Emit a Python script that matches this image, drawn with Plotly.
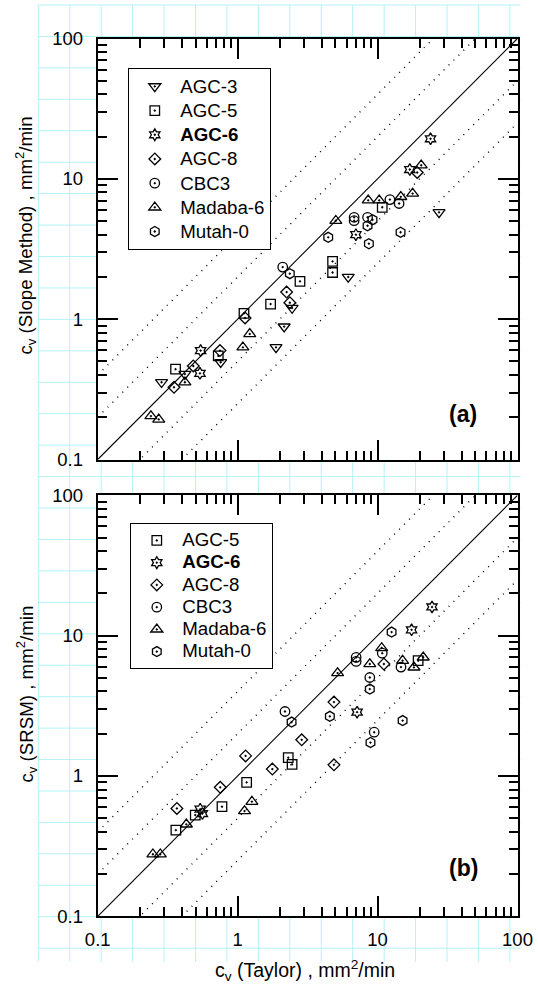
import plotly.graph_objects as go

W, H = 538, 986
FONT = "Liberation Sans, Arial, sans-serif"

# ---------------- Panel (a): cv (Taylor) vs cv (Slope Method) ----------------
agc3_a_x = [0.286, 0.42, 0.757, 1.88, 2.15, 2.45, 6.17, 27.5]
agc3_a_y = [0.355, 0.406, 0.493, 0.63, 0.885, 1.20, 2.0, 5.77]
agc5_a_x = [0.36, 0.727, 1.11, 1.72, 2.79, 4.77, 4.77, 10.8]
agc5_a_y = [0.44, 0.547, 1.10, 1.28, 1.86, 2.58, 2.15, 6.27]
agc6_a_x = [0.538, 0.544, 7.0, 17.0, 23.9]
agc6_a_y = [0.411, 0.597, 4.0, 11.65, 19.3]
agc8_a_x = [0.351, 0.482, 0.748, 1.13, 2.24, 2.36, 19.2]
agc8_a_y = [0.327, 0.464, 0.597, 1.02, 1.56, 1.31, 11.1]
cbc3_a_x = [2.10, 6.8, 6.8, 8.48, 12.25, 14.25]
cbc3_a_y = [2.35, 5.32, 5.03, 5.32, 7.11, 6.67]
mad6_a_x = [0.24, 0.273, 0.42, 1.09, 1.22, 5.03, 8.57, 10.27, 14.66, 17.8, 20.5]
mad6_a_y = [0.204, 0.193, 0.355, 0.63, 0.785, 5.03, 7.03, 7.03, 7.44, 7.85, 12.5]
mut0_a_x = [2.36, 4.44, 8.48, 8.67, 9.2, 14.6]
mut0_a_y = [2.11, 3.83, 4.63, 3.45, 5.11, 4.16]

# ---------------- Panel (b): cv (Taylor) vs cv (SRSM) ----------------
agc5_b_x = [0.362, 0.498, 0.773, 1.16, 2.30, 2.45, 19.5]
agc5_b_y = [0.411, 0.526, 0.604, 0.90, 1.35, 1.21, 6.63]
agc6_b_x = [0.54, 0.56, 7.14, 17.5, 24.5]
agc6_b_y = [0.58, 0.54, 2.85, 11.0, 16.0]
agc8_b_x = [0.368, 0.751, 1.14, 1.77, 2.87, 4.88, 4.88, 11.1]
agc8_b_y = [0.587, 0.83, 1.39, 1.12, 1.81, 3.36, 1.20, 6.28]
cbc3_b_x = [2.18, 7.03, 7.03, 8.8, 9.46, 10.8, 14.7]
cbc3_b_y = [2.88, 7.0, 6.55, 5.03, 2.05, 7.5, 5.97]
mad6_b_x = [0.248, 0.28, 0.43, 1.12, 1.265, 5.18, 8.8, 10.7, 15.1, 18.2, 21.2]
mad6_b_y = [0.277, 0.277, 0.452, 0.562, 0.656, 5.41, 6.28, 8.17, 6.63, 5.94, 7.0]
mut0_b_x = [2.43, 4.56, 8.8, 8.9, 12.6, 15.1]
mut0_b_y = [2.42, 2.66, 4.16, 1.73, 10.6, 2.48]

# reference lines y = k * x
line_x = [0.1, 100]
ratio_factors = [0.25, 0.5, 1, 2, 4]

major_ticks = [0.1, 1, 10, 100]
major_labels = ["0.1", "1", "10", "100"]
minor_ticks = [m * d for d in (0.1, 1, 10) for m in range(2, 10)]

series_a = [
    ("AGC-3", agc3_a_x, agc3_a_y, "triangle-down-open-dot", 10.5),
    ("AGC-5", agc5_a_x, agc5_a_y, "square-open-dot", 9.5),
    ("<b>AGC-6</b>", agc6_a_x, agc6_a_y, "hexagram-open-dot", 9),
    ("AGC-8", agc8_a_x, agc8_a_y, "diamond-open-dot", 9),
    ("CBC3", cbc3_a_x, cbc3_a_y, "circle-open-dot", 9.5),
    ("Madaba-6", mad6_a_x, mad6_a_y, "triangle-up-open-dot", 10.5),
    ("Mutah-0", mut0_a_x, mut0_a_y, "hexagon-open-dot", 10),
]
series_b = [
    ("AGC-5", agc5_b_x, agc5_b_y, "square-open-dot", 9.5),
    ("<b>AGC-6</b>", agc6_b_x, agc6_b_y, "hexagram-open-dot", 9),
    ("AGC-8", agc8_b_x, agc8_b_y, "diamond-open-dot", 9),
    ("CBC3", cbc3_b_x, cbc3_b_y, "circle-open-dot", 9.5),
    ("Madaba-6", mad6_b_x, mad6_b_y, "triangle-up-open-dot", 10.5),
    ("Mutah-0", mut0_b_x, mut0_b_y, "hexagon-open-dot", 10),
]

fig = go.Figure()

for xa, ya in (("x", "y"), ("x2", "y2")):
    for k in ratio_factors:
        fig.add_trace(go.Scatter(
            x=line_x, y=[v * k for v in line_x], xaxis=xa, yaxis=ya,
            mode="lines", showlegend=False, hoverinfo="skip",
            line=dict(color="black", width=1.1 if k == 1 else 1.4,
                      dash="solid" if k == 1 else "1px,6px")))

def span(t):
    return f'<span style="font-size:18.7px">{t}</span>'

MK_LINE = dict(width=1.3, color="black")
for name, xs, ys, sym, sz in series_a:
    fig.add_trace(go.Scatter(
        x=xs, y=ys, xaxis="x", yaxis="y", mode="markers", name=span(name),
        legend="legend",
        marker=dict(symbol=sym, size=sz, color="black", line=MK_LINE)))
for name, xs, ys, sym, sz in series_b:
    fig.add_trace(go.Scatter(
        x=xs, y=ys, xaxis="x2", yaxis="y2", mode="markers", name=span(name),
        legend="legend2",
        marker=dict(symbol=sym, size=sz, color="black", line=MK_LINE)))

def px_x(p):
    return p / W

def px_y(p):
    return 1 - p / H

XD = [px_x(97.7), px_x(517.5)]
YD_A = [px_y(459.5), px_y(38.5)]
YD_B = [px_y(916.3), px_y(495.3)]

axis_common = dict(
    type="log", range=[-1, 2], showline=True, linecolor="black", linewidth=2,
    mirror="allticks", ticks="inside", ticklen=20, tickwidth=2, tickcolor="black",
    tickmode="array", tickvals=major_ticks, ticktext=major_labels,
    minor=dict(tickmode="array", tickvals=minor_ticks, ticks="inside", ticklen=9,
               tickwidth=2, tickcolor="black", showgrid=False),
    showgrid=False, zeroline=False, automargin=False,
    tickfont=dict(size=18.5, color="black", family=FONT),
)

# graph-paper background (decoration)
GX0, GY0, STEP = 38.3, 5.0, 31.44
GX1, GY1 = 520.5, 961.7
vpath = " ".join(
    f"M{px_x(GX0 + i * STEP):.5f},{px_y(GY0):.5f} L{px_x(GX0 + i * STEP):.5f},{px_y(GY1):.5f}"
    for i in range(16))
hpath = " ".join(
    f"M{px_x(GX0):.5f},{px_y(GY0 + j * STEP):.5f} L{px_x(GX1):.5f},{px_y(GY0 + j * STEP):.5f}"
    for j in range(31))
GRID_COLOR = "#b2f3f7"
shapes = [
    dict(type="path", xref="paper", yref="paper", path=vpath, layer="below",
         line=dict(color=GRID_COLOR, width=1)),
    dict(type="path", xref="paper", yref="paper", path=hpath, layer="below",
         line=dict(color=GRID_COLOR, width=1)),
    dict(type="rect", xref="x domain", yref="y domain", x0=0, x1=1, y0=0, y1=1,
         layer="below", fillcolor="white", line=dict(width=0)),
    dict(type="rect", xref="x2 domain", yref="y2 domain", x0=0, x1=1, y0=0, y1=1,
         layer="below", fillcolor="white", line=dict(width=0)),
]

ytitle_font = dict(size=18.7, color="black", family=FONT)
xtitle_font = dict(size=19.5, color="black", family=FONT)
annotations = [
    dict(text="c<sub>v</sub> (Slope Method) , mm<sup>2</sup>/min", xref="paper", yref="paper",
         x=px_x(26.5), y=px_y(236), textangle=-90, showarrow=False, font=ytitle_font,
         xanchor="center", yanchor="middle"),
    dict(text="c<sub>v</sub> (SRSM) , mm<sup>2</sup>/min", xref="paper", yref="paper",
         x=px_x(26.5), y=px_y(694), textangle=-90, showarrow=False, font=ytitle_font,
         xanchor="center", yanchor="middle"),
    dict(text="c<sub>v</sub> (Taylor) , mm<sup>2</sup>/min", xref="paper", yref="paper",
         x=px_x(305), y=px_y(970), showarrow=False, font=xtitle_font,
         xanchor="center", yanchor="middle"),
    dict(text="<b>(a)</b>", xref="paper", yref="paper", x=px_x(462.5), y=px_y(414),
         showarrow=False, font=dict(size=23, color="black", family=FONT),
         xanchor="center", yanchor="middle"),
    dict(text="<b>(b)</b>", xref="paper", yref="paper", x=px_x(463.3), y=px_y(868),
         showarrow=False, font=dict(size=23, color="black", family=FONT),
         xanchor="center", yanchor="middle"),
]

legend_common = dict(
    bgcolor="white", bordercolor="black", borderwidth=1,
    xanchor="left", yanchor="top", itemwidth=41,
    font=dict(family=FONT, color="black"), tracegroupgap=0,
)

fig.update_layout(
    width=W, height=H, margin=dict(l=0, r=0, t=0, b=0),
    paper_bgcolor="white", plot_bgcolor="white", template="none",
    font=dict(family=FONT, color="black"),
    xaxis=dict(axis_common, domain=XD, anchor="y", showticklabels=False),
    yaxis=dict(axis_common, domain=YD_A, anchor="x", ticklabelstandoff=9),
    xaxis2=dict(axis_common, domain=XD, anchor="y2", ticklabelstandoff=5),
    yaxis2=dict(axis_common, domain=YD_B, anchor="x2", ticklabelstandoff=9),
    legend=dict(legend_common, x=px_x(128.3), y=px_y(68.3), font=dict(size=16.3, family=FONT)),
    legend2=dict(legend_common, x=px_x(130.3), y=px_y(523.3), font=dict(size=14.8, family=FONT)),
    shapes=shapes, annotations=annotations,
)

fig.write_html("out.html", config={"displayModeBar": False},
               post_script="document.body.style.margin='0px';")
